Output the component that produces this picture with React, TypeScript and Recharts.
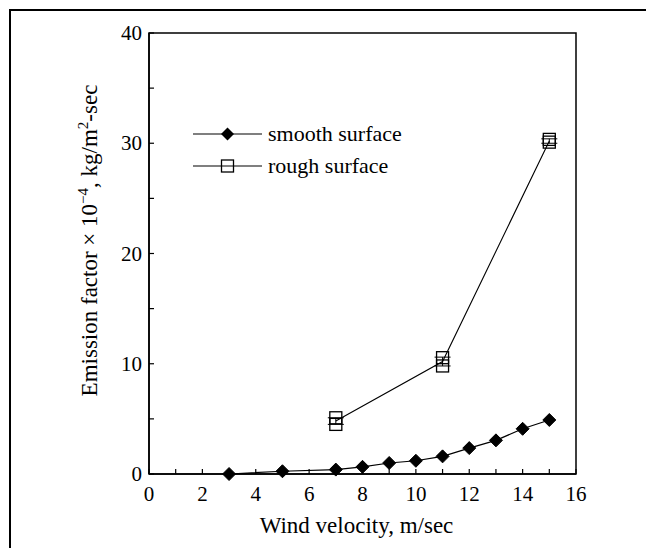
import React from 'react'
import {
  ComposedChart,
  Line,
  Scatter,
  XAxis,
  YAxis,
  ReferenceArea,
  Legend,
  ErrorBar,
} from 'recharts'

// wind velocity (m/sec) and emission factor (x 1e-4 kg/m2-sec)
const SMOOTH_WIND = [3, 5, 7, 8, 9, 10, 11, 12, 13, 14, 15]
const SMOOTH_EF = [0, 0.25, 0.4, 0.65, 1.0, 1.2, 1.6, 2.35, 3.05, 4.1, 4.9]

const ROUGH_WIND = [7, 11, 15]
const ROUGH_MEAN = [4.8, 10.2, 30.2]
const ROUGH_ERR = [0.3, 0.4, 0.2]
const ROUGH_HIGH = [5.1, 10.55, 30.35]
const ROUGH_LOW = [4.5, 9.8, 30.1]

const X_TICKS = [0, 1, 2, 3, 4, 5, 6, 7, 8, 9, 10, 11, 12, 13, 14, 15, 16]
const Y_TICKS = [0, 5, 10, 15, 20, 25, 30, 35, 40]
const LEGEND_ORDER = ['smooth surface', 'rough surface']

const SERIF = "'Liberation Serif', 'Times New Roman', serif"
const INK = '#000'

const smoothData = SMOOTH_WIND.map((x, i) => ({ x, y: SMOOTH_EF[i] }))
const roughData = ROUGH_WIND.map((x, i) => ({ x, y: ROUGH_MEAN[i], err: ROUGH_ERR[i] }))
const roughReps = ROUGH_WIND.flatMap((x, i) => [
  { x, y: ROUGH_HIGH[i] },
  { x, y: ROUGH_LOW[i] },
])

const diamond = (cx: number, cy: number, r = 6.5) =>
  `${cx},${cy - r} ${cx + r},${cy} ${cx},${cy + r} ${cx - r},${cy}`

function DiamondDot(props: any) {
  const { cx, cy, index } = props
  if (cx == null || cy == null) return <g key={`d-${index}`} />
  return <polygon key={`d-${index}`} points={diamond(cx, cy)} fill={INK} stroke={INK} />
}

function SquareShape(props: any) {
  const { cx, cy } = props
  return (
    <rect x={cx - 6} y={cy - 6} width={12} height={12} fill="none" stroke={INK} strokeWidth={1.3} />
  )
}

function XTick({ x, y, payload }: any) {
  return (
    <g>
      <line x1={x} y1={y} x2={x} y2={y - 5} stroke={INK} strokeWidth={1.2} />
      {payload.value % 2 === 0 && (
        <text x={x} y={y + 27} textAnchor="middle" fontSize={21} fontFamily={SERIF} fill={INK}>
          {payload.value}
        </text>
      )}
    </g>
  )
}

function YTick({ x, y, payload }: any) {
  return (
    <g>
      <line x1={x} y1={y} x2={x + 5} y2={y} stroke={INK} strokeWidth={1.2} />
      {payload.value % 10 === 0 && (
        <text x={x - 7} y={y + 7} textAnchor="end" fontSize={21} fontFamily={SERIF} fill={INK}>
          {payload.value}
        </text>
      )}
    </g>
  )
}

function XTitle(props: any) {
  const vb = props.viewBox || { x: 138, y: 463, width: 427, height: 72 }
  return (
    <text
      x={vb.x + vb.width / 2 - 6}
      y={vb.y + 59}
      textAnchor="middle"
      fontSize={23}
      fontFamily={SERIF}
      fill={INK}
    >
      Wind velocity, m/sec
    </text>
  )
}

function YTitle(props: any) {
  const vb = props.viewBox || { x: 0, y: 22, width: 138, height: 441 }
  const cx = vb.x + 86
  const cy = vb.y + vb.height / 2 - 13
  return (
    <text
      x={cx}
      y={cy}
      transform={`rotate(-90, ${cx}, ${cy})`}
      textAnchor="middle"
      fontSize={23}
      fontFamily={SERIF}
      fill={INK}
    >
      Emission factor × 10
      <tspan dy={-9} fontSize={15}>−4</tspan>
      <tspan dy={9}>, kg/m</tspan>
      <tspan dy={-9} fontSize={15}>2</tspan>
      <tspan dy={9}>-sec</tspan>
    </text>
  )
}

function LegendBox({ payload }: any) {
  const items = LEGEND_ORDER.filter((name) => (payload || []).some((p: any) => p.value === name))
  return (
    <svg width={240} height={64}>
      {items.map((name, i) => {
        const y = 15 + i * 32
        return (
          <g key={name}>
            <line x1={2} y1={y} x2={71} y2={y} stroke={INK} strokeWidth={1.2} />
            {name === 'smooth surface' ? (
              <polygon points={diamond(36.5, y)} fill={INK} />
            ) : (
              <rect x={30.5} y={y - 6} width={12} height={12} fill="none" stroke={INK} strokeWidth={1.3} />
            )}
            <text x={77} y={y + 7} fontSize={22} fontFamily={SERIF} fill={INK}>
              {name}
            </text>
          </g>
        )
      })}
    </svg>
  )
}

export default function App() {
  return (
    <div
      style={{
        position: 'absolute',
        left: 9,
        top: 9,
        width: 637,
        height: 539,
        borderTop: '2px solid #000',
        borderLeft: '2px solid #000',
        boxSizing: 'border-box',
        background: '#fff',
      }}
    >
      <ComposedChart width={620} height={535} margin={{ top: 22, right: 55, bottom: 0, left: 0 }}>
        <XAxis
          type="number"
          dataKey="x"
          domain={[0, 16]}
          ticks={X_TICKS}
          interval={0}
          allowDataOverflow
          height={72}
          tickLine={false}
          tickSize={0}
          tickMargin={0}
          tick={<XTick />}
          axisLine={{ stroke: INK, strokeWidth: 1.5 }}
          label={(p: any) => <XTitle {...p} />}
        />
        <YAxis
          type="number"
          dataKey="y"
          domain={[0, 40]}
          ticks={Y_TICKS}
          interval={0}
          width={138}
          tickLine={false}
          tickSize={0}
          tickMargin={0}
          tick={<YTick />}
          axisLine={{ stroke: INK, strokeWidth: 1.5 }}
          label={(p: any) => <YTitle {...p} />}
        />
        <ReferenceArea
          x1={0}
          x2={16}
          y1={0}
          y2={40}
          fill="none"
          stroke={INK}
          strokeWidth={1.5}
          ifOverflow="visible"
        />
        <Legend
          layout="vertical"
          align="center"
          verticalAlign="middle"
          wrapperStyle={{ left: 180, top: 108, width: 240, height: 64 }}
          content={<LegendBox />}
        />
        <Line
          data={roughData}
          dataKey="y"
          name="rough surface"
          stroke={INK}
          strokeWidth={1.1}
          dot={false}
          activeDot={false}
          isAnimationActive={false}
        >
          <ErrorBar dataKey="err" width={8} stroke={INK} strokeWidth={1} direction="y" />
        </Line>
        <Scatter
          data={roughReps}
          dataKey="y"
          name="rough replicates"
          legendType="none"
          shape={<SquareShape />}
          isAnimationActive={false}
        />
        <Line
          data={smoothData}
          dataKey="y"
          name="smooth surface"
          stroke={INK}
          strokeWidth={1.2}
          dot={(p: any) => <DiamondDot {...p} />}
          activeDot={false}
          isAnimationActive={false}
        />
      </ComposedChart>
    </div>
  )
}
